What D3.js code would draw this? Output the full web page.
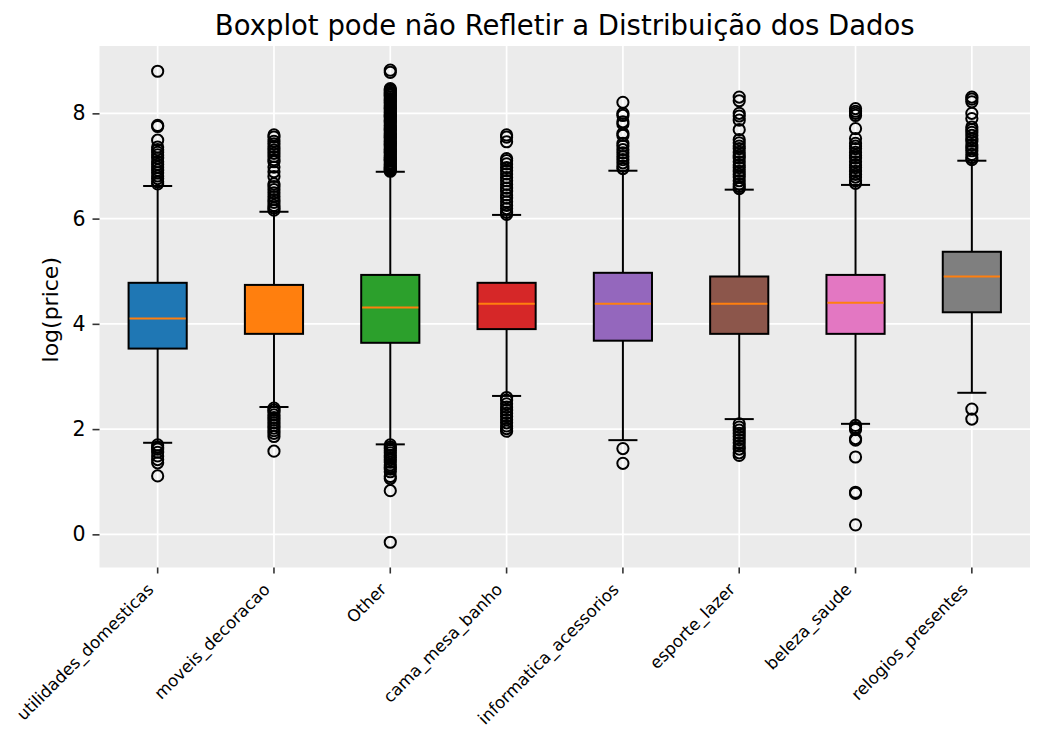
<html>

<head>
    <style>
        body { margin: 0; background: #ffffff; font-family: "DejaVu Sans", sans-serif; }
        svg { display: block; }
    </style>
    <script src="https://cdn.jsdelivr.net/npm/d3@7"></script>
</head>

<body>
<svg id="Grafico"></svg>

<script>
    // categorias do eixo x
    const categorias = ["utilidades_domesticas", "moveis_decoracao", "Other", "cama_mesa_banho",
                        "informatica_acessorios", "esporte_lazer", "beleza_saude", "relogios_presentes"];

    // estatisticas de cada caixa (log do preco)
    const q1        = [3.53, 3.81, 3.64, 3.90, 3.68, 3.81, 3.81, 4.22];
    const mediana   = [4.10, 4.24, 4.31, 4.38, 4.38, 4.38, 4.40, 4.90];
    const q3        = [4.78, 4.74, 4.93, 4.78, 4.97, 4.90, 4.93, 5.37];
    const bigodeMin = [1.74, 2.42, 1.71, 2.63, 1.79, 2.19, 2.10, 2.69];
    const bigodeMax = [6.62, 6.13, 6.89, 6.07, 6.91, 6.55, 6.64, 7.10];

    // outliers, um array por categoria
    const outliersAltos = [
        [8.80, 7.77, 7.75, 7.49, 7.36, 7.31, 7.26, 7.21, 7.15, 7.08, 7.03, 6.98, 6.92, 6.87, 6.81, 6.76, 6.70, 6.66],
        [7.59, 7.55, 7.47, 7.42, 7.36, 7.30, 7.24, 7.18, 7.12, 7.08, 6.98, 6.89, 6.80, 6.66, 6.61, 6.55, 6.49, 6.42, 6.36, 6.31, 6.25, 6.20, 6.16],
        [8.82, 8.78, 8.47, 8.45, 8.43, 8.40, 8.38, 8.36, 8.34, 8.31, 8.28, 8.26, 8.24, 8.21, 8.19, 8.16, 8.13, 8.11, 8.09, 8.06,
         8.03, 8.01, 7.98, 7.96, 7.94, 7.91, 7.88, 7.86, 7.84, 7.81, 7.78, 7.76, 7.73, 7.71, 7.69, 7.66, 7.63, 7.61, 7.58, 7.56,
         7.54, 7.51, 7.48, 7.46, 7.43, 7.41, 7.39, 7.36, 7.33, 7.31, 7.28, 7.26, 7.24, 7.21, 7.18, 7.16, 7.13, 7.11, 7.09, 7.06,
         7.03, 7.01, 6.98, 6.96, 6.94, 6.92, 6.90],
        [7.59, 7.55, 7.46, 7.14, 7.10, 7.04, 6.97, 6.91, 6.85, 6.78, 6.72, 6.65, 6.58, 6.52, 6.45, 6.39, 6.32, 6.25, 6.19, 6.12, 6.08],
        [8.21, 8.00, 7.96, 7.84, 7.80, 7.62, 7.58, 7.43, 7.38, 7.31, 7.25, 7.18, 7.12, 7.06, 7.00, 6.95],
        [8.31, 8.24, 8.00, 7.95, 7.87, 7.69, 7.50, 7.44, 7.38, 7.33, 7.26, 7.20, 7.15, 7.08, 7.02, 6.97, 6.90, 6.84, 6.79, 6.72, 6.66, 6.61, 6.57],
        [8.09, 8.04, 8.00, 7.96, 7.71, 7.52, 7.43, 7.38, 7.33, 7.26, 7.20, 7.15, 7.08, 7.02, 6.97, 6.90, 6.84, 6.79, 6.72, 6.67],
        [8.31, 8.27, 8.22, 8.00, 7.90, 7.74, 7.69, 7.64, 7.58, 7.52, 7.47, 7.40, 7.34, 7.29, 7.22, 7.16, 7.12]
    ];
    const outliersBaixos = [
        [1.70, 1.66, 1.62, 1.56, 1.49, 1.42, 1.36, 1.11],
        [2.40, 2.36, 2.32, 2.27, 2.22, 2.17, 2.12, 2.07, 2.02, 1.97, 1.92, 1.86, 1.58],
        [1.70, 1.66, 1.63, 1.59, 1.55, 1.50, 1.46, 1.42, 1.37, 1.32, 1.28, 1.24, 1.19, 1.10, 1.06, 0.83, -0.15],
        [2.60, 2.55, 2.48, 2.42, 2.36, 2.30, 2.24, 2.18, 2.12, 2.06, 2.01, 1.96],
        [1.63, 1.35],
        [2.10, 2.04, 1.98, 1.92, 1.86, 1.80, 1.74, 1.68, 1.62, 1.55, 1.50],
        [2.07, 2.03, 1.99, 1.82, 1.79, 1.47, 0.80, 0.78, 0.18],
        [2.38, 2.19]
    ];

    const cores = ["#1f77b4", "#ff7f0e", "#2ca02c", "#d62728", "#9467bd", "#8c564b", "#e377c2", "#7f7f7f"];
    const ticksY = [0, 2, 4, 6, 8];
    const limitesY = [-0.63, 9.28];

    function configuracao() {
        let ancho = 1045;
        let alto = 744;
        let margenes = { top: 46, bottom: 176.5, left: 99.5, right: 15 };
        let contenedor = d3.select("#Grafico").attr("width", ancho).attr("height", alto);
        return { ancho, alto, margenes, contenedor };
    }

    function escalas(conf) {
        let { ancho, alto, margenes } = conf;
        let escalaX = d3.scaleBand()
            .domain(categorias)
            .range([margenes.left, ancho - margenes.right])
            .padding(0);
        let escalaY = d3.scaleLinear()
            .domain(limitesY)
            .range([alto - margenes.bottom, margenes.top]);
        return { escalaX, escalaY };
    }

    function desenharFundo(conf, esc) {
        let { contenedor, margenes, ancho, alto } = conf;
        let { escalaX, escalaY } = esc;
        contenedor.append("rect")
            .attr("x", margenes.left).attr("y", margenes.top)
            .attr("width", ancho - margenes.left - margenes.right)
            .attr("height", alto - margenes.top - margenes.bottom)
            .attr("fill", "#ebebeb");

        let grade = contenedor.append("g").attr("stroke", "#ffffff").attr("stroke-width", 1.7);
        grade.selectAll(".gy").data(ticksY).enter().append("line")
            .attr("x1", margenes.left).attr("x2", ancho - margenes.right)
            .attr("y1", d => escalaY(d)).attr("y2", d => escalaY(d));
        grade.selectAll(".gx").data(categorias).enter().append("line")
            .attr("x1", d => escalaX(d) + escalaX.bandwidth() / 2)
            .attr("x2", d => escalaX(d) + escalaX.bandwidth() / 2)
            .attr("y1", margenes.top).attr("y2", alto - margenes.bottom);
    }

    function desenharCaixas(conf, esc) {
        let { contenedor } = conf;
        let { escalaX, escalaY } = esc;
        let larg = escalaX.bandwidth() * 0.5;
        let tampa = larg * 0.5;

        let dados = categorias.map((c, i) => ({
            c, i, q1: q1[i], med: mediana[i], q3: q3[i],
            lo: bigodeMin[i], hi: bigodeMax[i],
            out: outliersAltos[i].concat(outliersBaixos[i])
        }));

        let grupos = contenedor.selectAll(".caixa").data(dados).enter().append("g")
            .attr("transform", d => `translate(${escalaX(d.c) + escalaX.bandwidth() / 2},0)`);

        // bigodes
        grupos.append("line").attr("x1", 0).attr("x2", 0)
            .attr("y1", d => escalaY(d.q3)).attr("y2", d => escalaY(d.hi))
            .attr("stroke", "#000").attr("stroke-width", 2);
        grupos.append("line").attr("x1", 0).attr("x2", 0)
            .attr("y1", d => escalaY(d.q1)).attr("y2", d => escalaY(d.lo))
            .attr("stroke", "#000").attr("stroke-width", 2);
        grupos.append("line").attr("x1", -tampa / 2).attr("x2", tampa / 2)
            .attr("y1", d => escalaY(d.hi)).attr("y2", d => escalaY(d.hi))
            .attr("stroke", "#000").attr("stroke-width", 2);
        grupos.append("line").attr("x1", -tampa / 2).attr("x2", tampa / 2)
            .attr("y1", d => escalaY(d.lo)).attr("y2", d => escalaY(d.lo))
            .attr("stroke", "#000").attr("stroke-width", 2);

        // caixa
        grupos.append("rect")
            .attr("x", -larg / 2).attr("width", larg)
            .attr("y", d => escalaY(d.q3))
            .attr("height", d => escalaY(d.q1) - escalaY(d.q3))
            .attr("fill", d => cores[d.i])
            .attr("stroke", "#000").attr("stroke-width", 2);

        // mediana
        grupos.append("line").attr("x1", -larg / 2 + 1).attr("x2", larg / 2 - 1)
            .attr("y1", d => escalaY(d.med)).attr("y2", d => escalaY(d.med))
            .attr("stroke", "#ff7f0e").attr("stroke-width", 2);

        // outliers
        grupos.selectAll("circle").data(d => d.out).enter().append("circle")
            .attr("cx", 0).attr("cy", v => escalaY(v)).attr("r", 5.6)
            .attr("fill", "none").attr("stroke", "#000").attr("stroke-width", 2);
    }

    function desenharEixos(conf, esc) {
        let { contenedor, margenes, alto } = conf;
        let { escalaX, escalaY } = esc;

        let ejeY = d3.axisLeft(escalaY).tickValues(ticksY).tickSize(7).tickPadding(7).tickFormat(d3.format("d"));
        let gY = contenedor.append("g").attr("transform", `translate(${margenes.left},0)`).call(ejeY);
        gY.select(".domain").remove();
        gY.selectAll(".tick line").attr("stroke", "#333").attr("stroke-width", 1.6);
        gY.selectAll(".tick text").attr("fill", "#000").style("font-size", "20.5px")
            .style("font-family", "DejaVu Sans");

        let ejeX = d3.axisBottom(escalaX).tickSize(6).tickPadding(5);
        let gX = contenedor.append("g").attr("transform", `translate(0,${alto - margenes.bottom})`).call(ejeX);
        gX.select(".domain").remove();
        gX.selectAll(".tick line").attr("stroke", "#333").attr("stroke-width", 1.6);
        gX.selectAll(".tick text")
            .attr("fill", "#000")
            .style("font-size", "16.7px").style("font-family", "DejaVu Sans")
            .attr("text-anchor", "end")
            .attr("dy", null)
            .attr("y", null)
            .attr("transform", "translate(-3,23) rotate(-45)");

        contenedor.append("text")
            .attr("transform", `translate(58,${(margenes.top + alto - margenes.bottom) / 2 + 3}) rotate(-90)`)
            .attr("text-anchor", "middle")
            .style("font-size", "22px").style("font-family", "DejaVu Sans")
            .text("log(price)");
    }

    function desenharTitulo(conf) {
        let { contenedor, margenes, ancho } = conf;
        contenedor.append("text")
            .attr("x", (margenes.left + ancho - margenes.right) / 2)
            .attr("y", 35)
            .attr("text-anchor", "middle")
            .style("font-size", "27.5px").style("font-family", "DejaVu Sans")
            .text("Boxplot pode não Refletir a Distribuição dos Dados");
    }

    function mostrar() {
        let conf = configuracao();
        let esc = escalas(conf);
        desenharFundo(conf, esc);
        desenharCaixas(conf, esc);
        desenharEixos(conf, esc);
        desenharTitulo(conf);
    }

    mostrar();
</script>
</body>
</html>
